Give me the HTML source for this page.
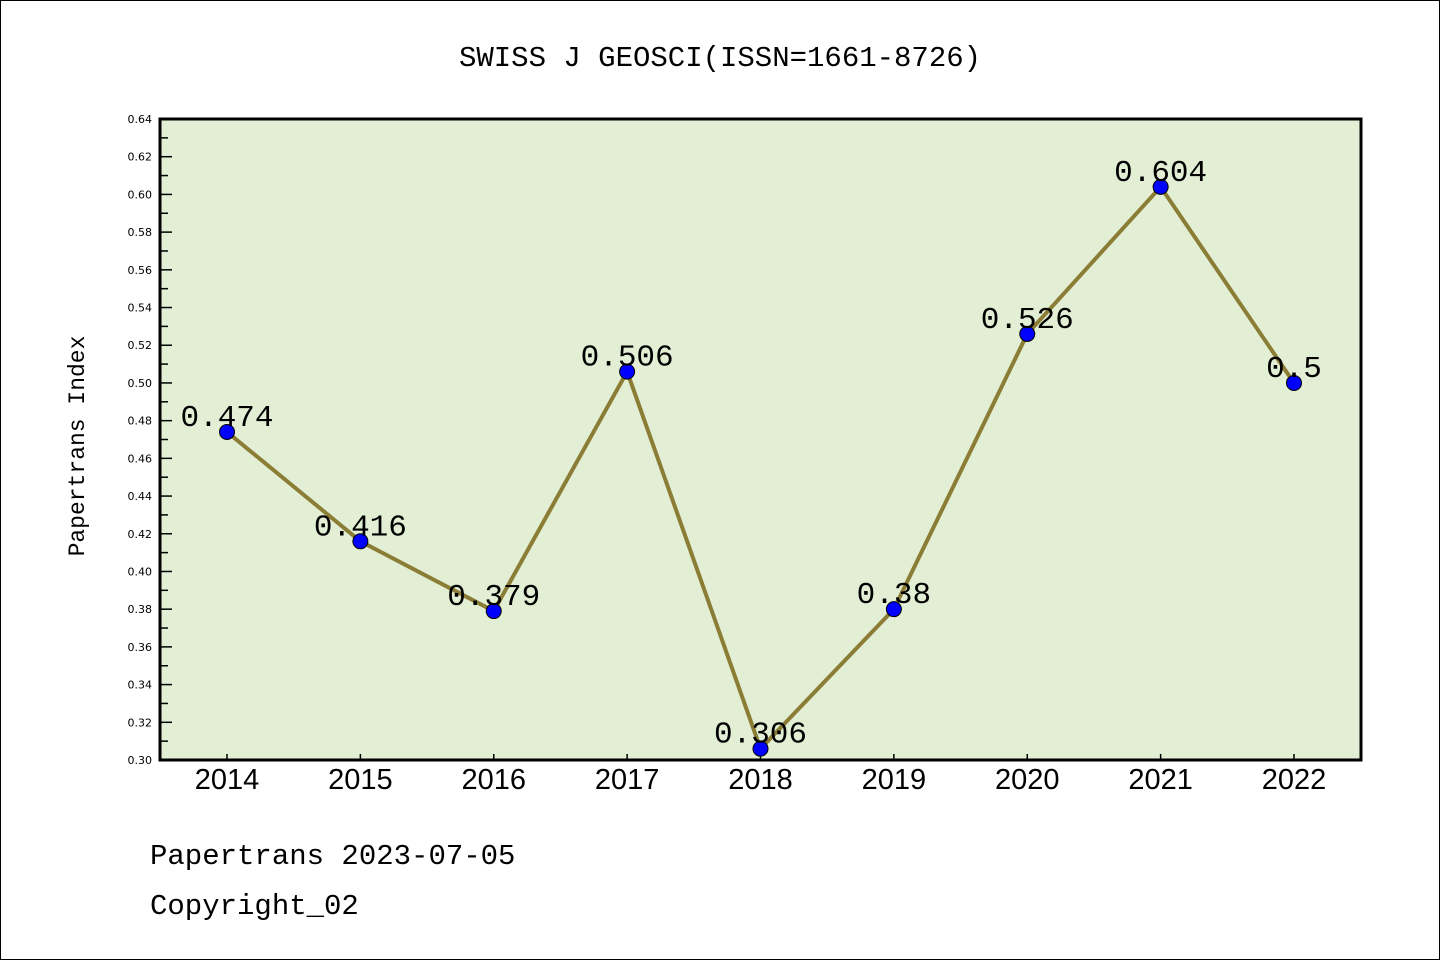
<!DOCTYPE html>
<html><head><meta charset="utf-8"><style>
html,body{margin:0;padding:0;background:#fff}
svg{display:block}
</style></head><body>
<svg id="chart" width="1440" height="960" xmlns="http://www.w3.org/2000/svg" font-family="'Liberation Sans','Noto Sans CJK SC',sans-serif">
<rect x="0.5" y="0.5" width="1439" height="959" fill="#fff" stroke="#000"/>
<text x="720" y="66" text-anchor="middle" font-size="29" font-family="'Liberation Mono','Noto Sans CJK SC',monospace">SWISS J GEOSCI(ISSN=1661-8726)</text>
<rect x="160" y="119" width="1201" height="641" fill="#e2efd5"/>
<g id="axes"></g>
<g id="series"></g>
<rect x="160" y="119" width="1201" height="641" fill="none" stroke="#000" stroke-width="3"/>
<text transform="translate(84,446) rotate(-90)" text-anchor="middle" font-size="23" font-family="'Liberation Mono',monospace">Papertrans Index</text>
<text x="150" y="864" font-size="29" font-family="'Liberation Mono',monospace">Papertrans 2023-07-05</text>
<text x="150" y="914" font-size="29" font-family="'Liberation Mono',monospace">Copyright_02</text>
</svg>
<script>
const years=[2014,2015,2016,2017,2018,2019,2020,2021,2022];
const values=[0.474,0.416,0.379,0.506,0.306,0.38,0.526,0.604,0.5];
const valueLabels=["0.474","0.416","0.379","0.506","0.306","0.38","0.526","0.604","0.5"];
const yTicks=["0.30","0.32","0.34","0.36","0.38","0.40","0.42","0.44","0.46","0.48","0.50","0.52","0.54","0.56","0.58","0.60","0.62","0.64"];
(function(){
const NS="http://www.w3.org/2000/svg";
const yMin=0.30,yMax=0.64,pTop=119,pBot=760,pLeft=160,pRight=1361;
function ys(v){return pBot-(v-yMin)/(yMax-yMin)*(pBot-pTop);}
function xs(i){return 227+(1294-227)*i/(years.length-1);}
function mk(t,a,p){const e=document.createElementNS(NS,t);for(const k in a)e.setAttribute(k,a[k]);p.appendChild(e);return e;}
const axes=document.getElementById('axes'),ser=document.getElementById('series');
for(let k=0;k<=34;k++){const v=yMin+k*0.01,y=ys(v);const len=k%2?8:12;
 const l=mk('line',{x1:pLeft,x2:pLeft+len,y1:y,y2:y,stroke:'#000','stroke-width':1.5},axes);
 
 }
yTicks.forEach(s=>{const t=mk('text',{x:152,y:ys(parseFloat(s))+4,'text-anchor':'end','font-size':11,'font-family':"'DejaVu Sans',sans-serif"},axes);t.textContent=s;
 
 });
years.forEach((yr,i)=>{const x=xs(i);
 const l=mk('line',{x1:x,x2:x,y1:pBot-6,y2:pBot,stroke:'#000','stroke-width':1.5},axes);
 
 
 const t=mk('text',{x:x,y:789,'text-anchor':'middle','font-size':29},axes);t.textContent=yr;
 
 });
const pts=values.map((v,i)=>xs(i)+','+ys(v)).join(' ');
const pl=mk('polyline',{points:pts,fill:'none',stroke:'#8b7d35','stroke-width':4,'stroke-linejoin':'round'},ser);


values.forEach((v,i)=>{
 const c=mk('circle',{cx:xs(i),cy:ys(v),r:7.5,fill:'#0000ff',stroke:'#000','stroke-width':1},ser);
 
 
 const t=mk('text',{x:xs(i),y:ys(v)-6,'text-anchor':'middle','font-size':31,'font-family':"'Liberation Mono',monospace"},ser);t.textContent=valueLabels[i];
 
 });
})();
</script>
</body></html>
